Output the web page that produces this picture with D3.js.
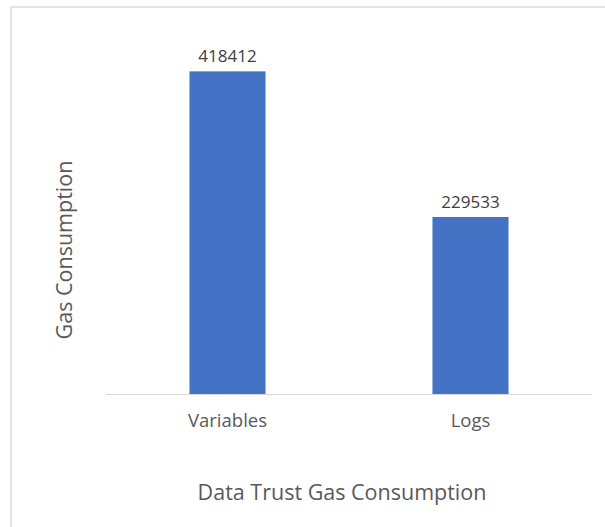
<!DOCTYPE html>
<html>
<head>
<meta charset="utf-8">
<script src="https://cdn.jsdelivr.net/npm/d3@7"></script>
<style>
  html, body { margin: 0; padding: 0; background: #fff; }
  svg { display: block; font-family: "Open Sans", "Noto Sans", sans-serif; }
</style>
</head>
<body>
<svg width="605" height="527"></svg>
<script>
// chart values
var categories = ["Variables", "Logs"];
var gasValues = [418412, 229533];
var chartTitle = "Data Trust Gas Consumption";
var yTitle = "Gas Consumption";

var svg = d3.select("svg");

// outer chart frame (cut off at right and bottom like the screenshot)
svg.append("rect")
  .attr("x", 11).attr("y", 7)
  .attr("width", 620).attr("height", 540)
  .attr("fill", "#fff")
  .attr("stroke", "#dcdcdc")
  .attr("stroke-width", 1.5);

var plot = {left: 106, right: 592, top: 47, bottom: 394};

var x = d3.scaleBand()
  .domain(categories)
  .range([plot.left, plot.right])
  .paddingInner(0.687)
  .paddingOuter(0.3435);

var y = d3.scaleLinear()
  .domain([0, 450000])
  .range([plot.bottom, plot.top]);

var data = categories.map(function(c, i) { return {name: c, value: gasValues[i]}; });

// baseline
svg.append("line")
  .attr("x1", plot.left).attr("x2", plot.right)
  .attr("y1", plot.bottom + 0.5).attr("y2", plot.bottom + 0.5)
  .attr("stroke", "#d9d9d9")
  .attr("stroke-width", 1);

svg.selectAll("rect.bars")
  .data(data)
  .enter()
  .append("rect")
  .classed("bars", true)
  .attr("x", function(d) { return x(d.name); })
  .attr("width", x.bandwidth())
  .attr("y", function(d) { return y(d.value); })
  .attr("height", function(d) { return y(0) - y(d.value); })
  .attr("fill", "#4472c4");

// value labels
svg.selectAll("text.val")
  .data(data)
  .enter()
  .append("text")
  .classed("val", true)
  .attr("x", function(d) { return x(d.name) + x.bandwidth() / 2; })
  .attr("y", function(d) { return y(d.value) - 9; })
  .attr("text-anchor", "middle")
  .attr("font-size", 17)
  .attr("fill", "#404040")
  .text(function(d) { return d.value; });

// category axis
var xAxis = d3.axisBottom(x).tickSize(0).tickPadding(20);
var gx = svg.append("g")
  .attr("transform", "translate(0," + plot.bottom + ")")
  .call(xAxis);
gx.select(".domain").remove();
gx.selectAll("text")
  .attr("font-family", "Open Sans, sans-serif")
  .attr("font-size", 18.5)
  .attr("fill", "#595959");

// axis titles
svg.append("text")
  .attr("x", 342).attr("y", 500)
  .attr("text-anchor", "middle")
  .attr("font-size", 21.5)
  .attr("fill", "#595959")
  .text(chartTitle);

svg.append("text")
  .attr("transform", "translate(72,250) rotate(-90)")
  .attr("text-anchor", "middle")
  .attr("font-size", 21.5)
  .attr("fill", "#595959")
  .text(yTitle);
</script>
</body>
</html>
